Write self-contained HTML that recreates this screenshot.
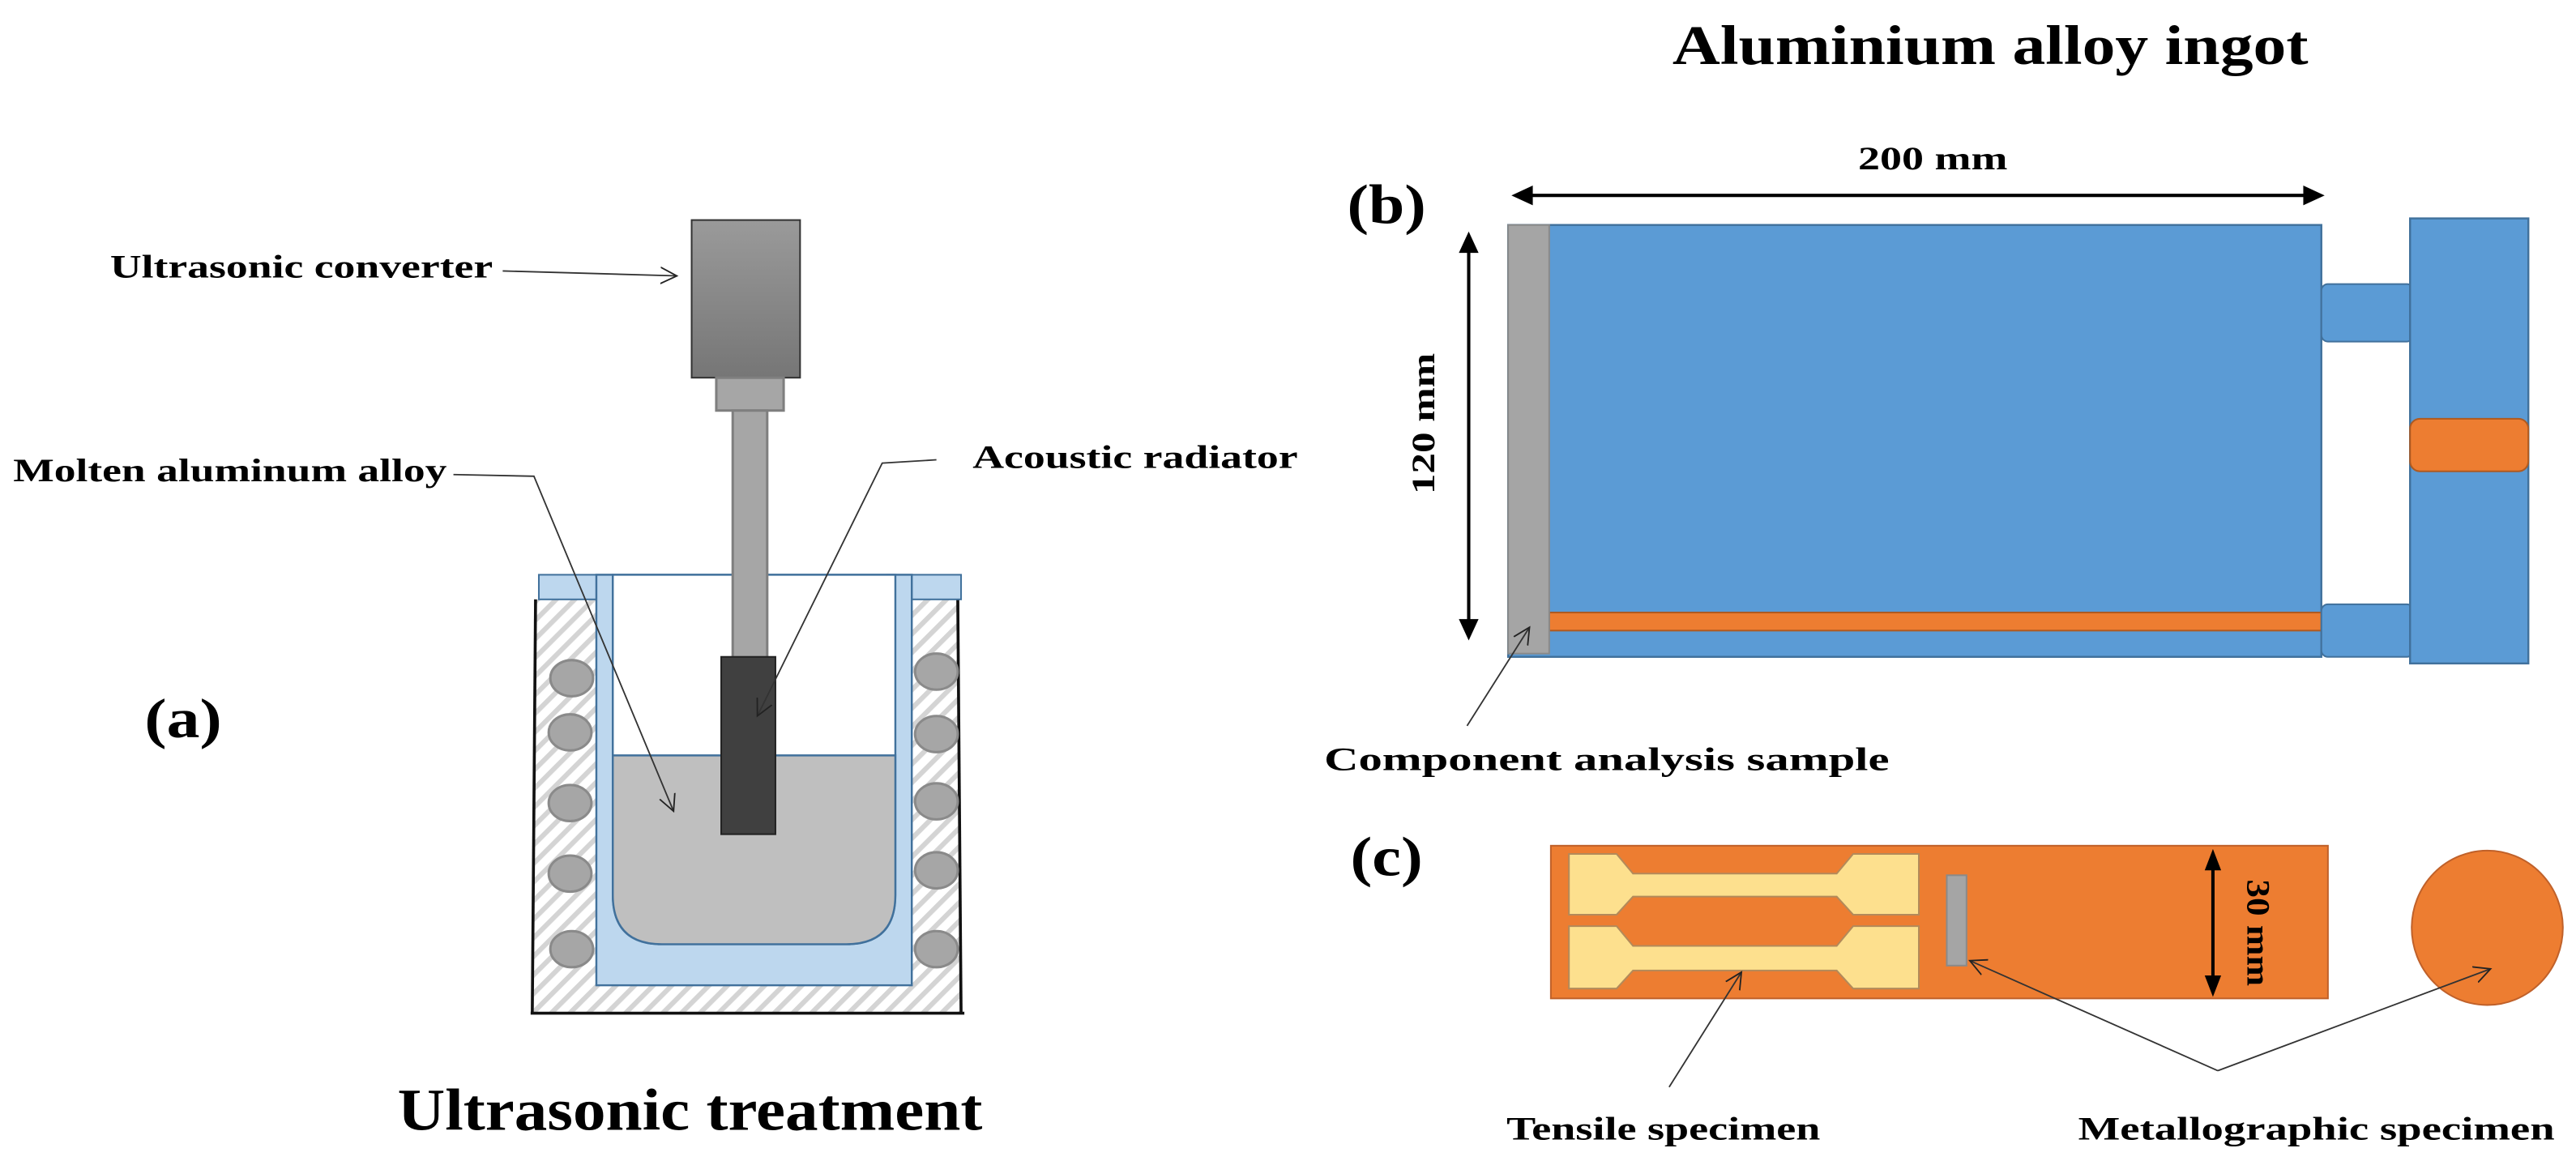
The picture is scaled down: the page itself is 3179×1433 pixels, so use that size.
<!DOCTYPE html>
<html><head><meta charset="utf-8"><style>
html,body{margin:0;padding:0;background:#fff;}
svg{display:block;}
text{font-family:"Liberation Serif",serif;font-weight:bold;fill:#000;}
</style></head><body>
<svg width="3179" height="1433" viewBox="0 0 1568 707" preserveAspectRatio="none" xmlns="http://www.w3.org/2000/svg">
<defs>
<pattern id="hatch" width="8" height="8" patternUnits="userSpaceOnUse" patternTransform="rotate(-45)">
<rect width="8" height="8" fill="#fff"/><rect width="8" height="3" fill="#d4d4d4"/>
</pattern>
<linearGradient id="gconv" x1="0" y1="0" x2="0" y2="1"><stop offset="0" stop-color="#9a9a9a"/><stop offset="1" stop-color="#767676"/></linearGradient>
<marker id="oa" markerWidth="12" markerHeight="12" refX="10" refY="6" orient="auto" markerUnits="userSpaceOnUse"><path d="M0,1 L10,6 L0,11" fill="none" stroke="#222" stroke-width="0.9"/></marker>
</defs>

<!-- (a) -->
<rect x="325" y="365" width="259" height="252" fill="url(#hatch)"/>
<line x1="326" y1="365" x2="324" y2="617" stroke="#111" stroke-width="1.8"/>
<line x1="583" y1="365" x2="585" y2="617" stroke="#111" stroke-width="1.8"/>
<line x1="323" y1="617" x2="587" y2="617" stroke="#111" stroke-width="1.8"/>
<rect x="328" y="350" width="45" height="15" fill="#bdd7ee" stroke="#41719c" stroke-width="1"/>
<rect x="540" y="350" width="45" height="15" fill="#bdd7ee" stroke="#41719c" stroke-width="1"/>
<rect x="363" y="350" width="192" height="250" fill="#bdd7ee" stroke="#41719c" stroke-width="1.2"/>
<path d="M373,350 L545,350 L545,545 Q545,575 515,575 L403,575 Q373,575 373,545 Z" fill="#fff" stroke="#41719c" stroke-width="1.2"/>
<path d="M373,460 L545,460 L545,545 Q545,575 515,575 L403,575 Q373,575 373,545 Z" fill="#bfbfbf" stroke="#41719c" stroke-width="1.2"/>
<g fill="#a6a6a6" stroke="#8a8a8a" stroke-width="1.5">
<ellipse cx="348" cy="413" rx="13" ry="11"/><ellipse cx="347" cy="446" rx="13" ry="11"/><ellipse cx="347" cy="489" rx="13" ry="11"/><ellipse cx="347" cy="532" rx="13" ry="11"/><ellipse cx="348" cy="578" rx="13" ry="11"/>
<ellipse cx="570" cy="409" rx="13" ry="11"/><ellipse cx="570" cy="447" rx="13" ry="11"/><ellipse cx="570" cy="488" rx="13" ry="11"/><ellipse cx="570" cy="530" rx="13" ry="11"/><ellipse cx="570" cy="578" rx="13" ry="11"/>
</g>
<rect x="421" y="134" width="66" height="96" fill="url(#gconv)" stroke="#333" stroke-width="1"/>
<rect x="436" y="230" width="41" height="20" fill="#a6a6a6" stroke="#7f7f7f" stroke-width="1.5"/>
<rect x="446" y="250" width="21" height="152" fill="#a6a6a6" stroke="#7f7f7f" stroke-width="1.5"/>
<rect x="439" y="400" width="33" height="108" fill="#404040" stroke="#222" stroke-width="1"/>
<line x1="306" y1="165" x2="412" y2="168" stroke="#333" stroke-width="0.9" marker-end="url(#oa)"/>
<polyline points="276,289 325,290 410,494" fill="none" stroke="#333" stroke-width="0.9" marker-end="url(#oa)"/>
<polyline points="570,280 537,282 461,436" fill="none" stroke="#333" stroke-width="0.9" marker-end="url(#oa)"/>
<text x="67" y="169" font-size="20" textLength="233" lengthAdjust="spacingAndGlyphs">Ultrasonic converter</text>
<text x="8" y="293" font-size="20" textLength="264" lengthAdjust="spacingAndGlyphs">Molten aluminum alloy</text>
<text x="592" y="285" font-size="20" textLength="198" lengthAdjust="spacingAndGlyphs">Acoustic radiator</text>
<text x="88" y="449" font-size="34" textLength="47" lengthAdjust="spacingAndGlyphs">(a)</text>
<text x="242" y="688" font-size="36" textLength="356" lengthAdjust="spacingAndGlyphs">Ultrasonic treatment</text>

<!-- (b) -->
<text x="1018" y="39" font-size="34" textLength="387" lengthAdjust="spacingAndGlyphs">Aluminium alloy ingot</text>
<text x="1131" y="103" font-size="20" textLength="91" lengthAdjust="spacingAndGlyphs">200 mm</text>
<text x="820" y="136" font-size="34" textLength="48" lengthAdjust="spacingAndGlyphs">(b)</text>
<line x1="930" y1="119" x2="1405" y2="119" stroke="#000" stroke-width="2"/>
<path d="M920,119 L933,113 L933,125 Z M1415,119 L1402,113 L1402,125 Z" fill="#000"/>
<line x1="894" y1="152" x2="894" y2="380" stroke="#000" stroke-width="2"/>
<path d="M894,141 L888,154 L900,154 Z M894,390 L888,377 L900,377 Z" fill="#000"/>
<text transform="translate(873,258) rotate(-90)" text-anchor="middle" font-size="20" textLength="86" lengthAdjust="spacingAndGlyphs">120 mm</text>
<rect x="918" y="137" width="495" height="263" fill="#5b9bd5" stroke="#41719c" stroke-width="1.2"/>
<rect x="943" y="373" width="470" height="11" fill="#ed7d31" stroke="#ae5a21" stroke-width="1"/>
<rect x="918" y="137" width="25" height="261" fill="#a5a5a5" stroke="#8a8a8a" stroke-width="1"/>
<rect x="1413" y="173" width="56" height="35" rx="4" fill="#5b9bd5" stroke="#41719c" stroke-width="1"/>
<rect x="1413" y="368" width="56" height="32" rx="4" fill="#5b9bd5" stroke="#41719c" stroke-width="1"/>
<rect x="1467" y="133" width="72" height="271" fill="#5b9bd5" stroke="#41719c" stroke-width="1.2"/>
<rect x="1467" y="255" width="72" height="32" rx="6" fill="#ed7d31" stroke="#ae5a21" stroke-width="1"/>
<line x1="893" y1="442" x2="931" y2="382" stroke="#333" stroke-width="0.9" marker-end="url(#oa)"/>
<text x="806" y="469" font-size="20" textLength="344" lengthAdjust="spacingAndGlyphs">Component analysis sample</text>

<!-- (c) -->
<text x="822" y="533" font-size="34" textLength="44" lengthAdjust="spacingAndGlyphs">(c)</text>
<rect x="944" y="515" width="473" height="93" fill="#ed7d31" stroke="#c0612a" stroke-width="1"/>
<path d="M955,520 L984,520 L994,532 L1118,532 L1128,520 L1168,520 L1168,557 L1128,557 L1118,546 L994,546 L984,557 L955,557 Z" fill="#fde08e" stroke="#b38a5a" stroke-width="1"/>
<path d="M955,564 L984,564 L994,576 L1118,576 L1128,564 L1168,564 L1168,602 L1128,602 L1118,591 L994,591 L984,602 L955,602 Z" fill="#fde08e" stroke="#b38a5a" stroke-width="1"/>
<rect x="1185" y="533" width="12" height="55" fill="#a5a5a5" stroke="#8a8a8a" stroke-width="1"/>
<line x1="1347" y1="528" x2="1347" y2="596" stroke="#000" stroke-width="2"/>
<path d="M1347,517 L1342,530 L1352,530 Z M1347,607 L1342,594 L1352,594 Z" fill="#000"/>
<text transform="translate(1368,568) rotate(90)" text-anchor="middle" font-size="20" textLength="65" lengthAdjust="spacingAndGlyphs">30 mm</text>
<ellipse cx="1514" cy="565" rx="46" ry="47" fill="#ed7d31" stroke="#c0612a" stroke-width="1"/>
<line x1="1016" y1="662" x2="1060" y2="592" stroke="#333" stroke-width="0.9" marker-end="url(#oa)"/>
<line x1="1350" y1="652" x2="1199" y2="585" stroke="#333" stroke-width="0.9" marker-end="url(#oa)"/>
<line x1="1350" y1="652" x2="1516" y2="590" stroke="#333" stroke-width="0.9" marker-end="url(#oa)"/>
<text x="917" y="694" font-size="20" textLength="191" lengthAdjust="spacingAndGlyphs">Tensile specimen</text>
<text x="1265" y="694" font-size="20" textLength="290" lengthAdjust="spacingAndGlyphs">Metallographic specimen</text>
</svg>
</body></html>
